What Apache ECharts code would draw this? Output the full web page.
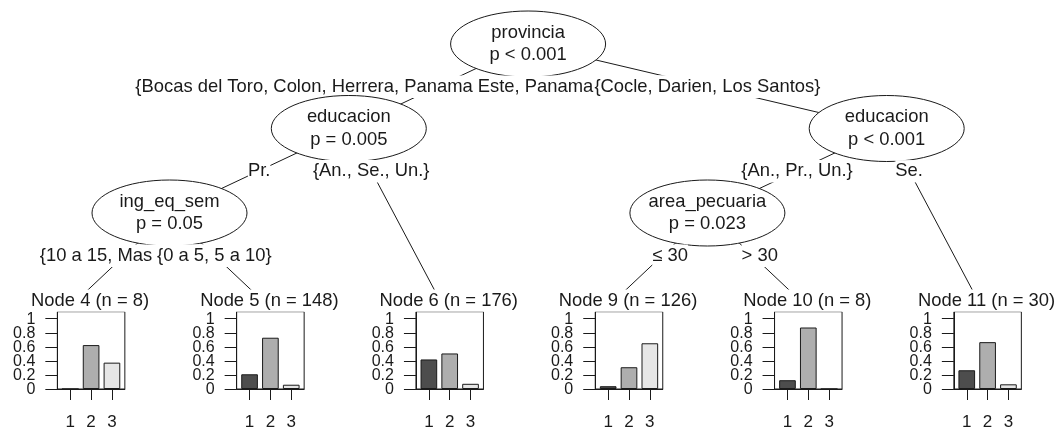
<!DOCTYPE html>
<html>
<head>
<meta charset="utf-8">
<script src="https://cdn.jsdelivr.net/npm/echarts@6/dist/echarts.min.js"></script>
<style>
  html, body { margin: 0; padding: 0; background: #fff; }
  #chart { width: 1057px; height: 431px; }
</style>
</head>
<body>
<div id="chart"></div>
<script>
// Conditional inference tree (ctree) for a three-class response.

// Tree structure, one entry per node in node-id order
const nodeId        = [1, 2, 3, 4, 5, 6, 7, 8, 9, 10, 11];
const nodeParent    = [0, 1, 2, 3, 3, 2, 1, 7, 8, 8, 7];
const splitVariable = ['provincia', 'educacion', 'ing_eq_sem', '', '', '', 'educacion', 'area_pecuaria', '', '', ''];
const splitPValue   = ['p < 0.001', 'p = 0.005', 'p = 0.05', '', '', '', 'p < 0.001', 'p = 0.023', '', '', ''];
// label of the edge leading into each node
const edgeLabel = [
  '',
  '{Bocas del Toro, Colon, Herrera, Panama Este, Panama Oeste, Veraguas}',
  'Pr.',
  '{10 a 15, Mas de 15}',
  '{0 a 5, 5 a 10}',
  '{An., Se., Un.}',
  '{Cocle, Darien, Los Santos}',
  '{An., Pr., Un.}',
  '\u2264 30',
  '> 30',
  'Se.'
];

// Terminal nodes: size and class counts
const leafId      = [4, 5, 6, 9, 10, 11];
const leafN       = [8, 148, 176, 126, 8, 30];
const class1Count = [0, 31, 74, 5, 1, 8];
const class2Count = [5, 108, 89, 39, 7, 20];
const class3Count = [3, 9, 13, 82, 0, 2];
const classLabels = ['1', '2', '3'];
const yTickValues = [0, 0.2, 0.4, 0.6, 0.8, 1];

// ---- styling / page geometry ----
const W = 1057, H = 431;
const FONT = '"Liberation Sans", Arial, Helvetica, sans-serif';
const treeFont = '18.4px ' + FONT;
const tickFont = '16px ' + FONT;
const lineH = 22.3;
const ink = '#1a1a1a';
const classColors = ['#4d4d4d', '#aeaeae', '#e6e6e6'];
const unitPx = 179.3, unitOrigin = -9.8;   // one terminal column
const levelPx = 84.5, levelOrigin = 44;    // one tree level
const ellipseRx = 77.5, ellipseRy = 33;
const boxOffset = -22.5, boxWidth = 67.5, boxTop = 311.7, boxHeight = 80.6;
const barXMin = 0.38, barXMax = 3.62, barRel = 0.8;
const yLabelGap = 22;

// ---- tree layout (columns in terminal units, rows in levels) ----
const idx = id => nodeId.indexOf(id);
const kids = {};
nodeId.forEach((id, i) => {
  const p = nodeParent[i];
  if (p) (kids[p] = kids[p] || []).push(id);
});
const widthOf = id => kids[id] ? kids[id].reduce((s, c) => s + widthOf(c), 0) : 1;
const depthOf = id => nodeParent[idx(id)] ? depthOf(nodeParent[idx(id)]) + 1 : 1;
const leafLevel = Math.max(...nodeId.filter(id => kids[id]).map(depthOf)) + 1;

const pos = {};
function place(id, a, b) {
  const k = kids[id];
  if (!k) { pos[id] = { x: (a + b) / 2, y: leafLevel }; return; }
  pos[id] = { x: a + widthOf(k[0]) / widthOf(id) * (b - a), y: depthOf(id) };
  let s = a;
  k.forEach(c => { const w = widthOf(c); place(c, s, s + w); s += w; });
}
place(1, 0, widthOf(1));

// drawing order: edges, node, edge labels, then each subtree
const ops = [];
function emit(id) {
  const k = kids[id];
  if (!k) { ops.push({ kind: 'title', id }); return; }
  k.forEach(c => ops.push({ kind: 'edge', from: id, to: c }));
  ops.push({ kind: 'node', id });
  k.forEach(c => ops.push({ kind: 'label', from: id, to: c }));
  k.forEach(emit);
}
emit(1);

const treeData = ops.map(op => {
  const n = pos[op.id || op.to];
  return [n.x, n.y];
});

function renderTree(params, api) {
  const op = ops[params.dataIndex];
  const z2 = params.dataIndex * 2;
  const at = id => api.coord([pos[id].x, pos[id].y]);
  if (op.kind === 'edge') {
    const a = at(op.from), b = at(op.to);
    return { type: 'line', z2, shape: { x1: a[0], y1: a[1], x2: b[0], y2: b[1] },
             style: { stroke: ink, lineWidth: 1 } };
  }
  if (op.kind === 'node') {
    const c = at(op.id), i = idx(op.id);
    return { type: 'group', children: [
      { type: 'ellipse', z2, shape: { cx: c[0], cy: c[1], rx: ellipseRx, ry: ellipseRy },
        style: { fill: '#fff', stroke: ink, lineWidth: 1 } },
      { type: 'text', z2: z2 + 1, style: { text: splitVariable[i] + '\n' + splitPValue[i],
        x: c[0], y: c[1], align: 'center', verticalAlign: 'middle',
        font: treeFont, lineHeight: lineH, fill: ink } }
    ] };
  }
  if (op.kind === 'label') {
    const a = pos[op.from], b = pos[op.to];
    const t = 0.5 / (b.y - a.y);
    const p = api.coord([a.x + (b.x - a.x) * t, a.y + 0.5]);
    const text = edgeLabel[idx(op.to)];
    const nudge = /^[\u2264>]/.test(text) ? 7.5 : 0;
    return { type: 'text', z2, style: { text, x: p[0] + nudge, y: p[1] + 0.5,
      align: 'center', verticalAlign: 'middle', font: treeFont, lineHeight: lineH,
      fill: ink, backgroundColor: '#fff' } };
  }
  // terminal node title
  const c = at(op.id);
  const li = leafId.indexOf(op.id);
  return { type: 'text', z2, style: { text: 'Node ' + op.id + ' (n = ' + leafN[li] + ')',
    x: c[0] + boxOffset + boxWidth / 2 - 1, y: boxTop - lineH / 2,
    align: 'center', verticalAlign: 'middle', font: treeFont, lineHeight: lineH,
    fill: ink, backgroundColor: '#fff' } };
}

// proportion-axis tick labels, placed through each panel's own scale
function renderYLabel(params, api) {
  const p = api.coord([barXMin, api.value(1)]);
  return { type: 'text', style: { text: String(api.value(1)), x: p[0] - yLabelGap, y: p[1] + 0.5,
    align: 'right', verticalAlign: 'middle', font: tickFont, fill: ink } };
}

const leafPx = id => unitOrigin + unitPx * pos[id].x;

const grids = [{ left: 0, top: 0, width: W, height: H }];
const xAxes = [{ gridIndex: 0, type: 'value', show: false,
  min: (0 - unitOrigin) / unitPx, max: (W - unitOrigin) / unitPx }];
const yAxes = [{ gridIndex: 0, type: 'value', show: false, inverse: true,
  min: 1 + (0 - levelOrigin) / levelPx, max: 1 + (H - levelOrigin) / levelPx }];
const series = [{
  type: 'custom', xAxisIndex: 0, yAxisIndex: 0, data: treeData,
  renderItem: renderTree, silent: true, clip: false, z: 2
}];

const barPx = barRel * boxWidth / (barXMax - barXMin);
leafId.forEach((id, i) => {
  const g = i + 1;
  grids.push({ left: leafPx(id) + boxOffset, top: boxTop, width: boxWidth, height: boxHeight,
    show: true, borderColor: ink, borderWidth: 1, backgroundColor: 'transparent' });
  xAxes.push({ gridIndex: g, type: 'value', min: barXMin, max: barXMax,
    axisLine: { show: true, lineStyle: { color: ink, width: 1 } },
    axisTick: { show: true, length: 11, customValues: [1, 2, 3], lineStyle: { color: ink } },
    axisLabel: { show: true, customValues: [1, 2, 3], formatter: v => classLabels[v - 1],
      margin: 25, fontSize: 17, fontFamily: FONT, color: ink, interval: 0,
      showMinLabel: true, showMaxLabel: true, hideOverlap: false },
    splitLine: { show: false } });
  yAxes.push({ gridIndex: g, type: 'value', min: 0, max: 1.1,
    axisLine: { show: true, lineStyle: { color: ink, width: 1 } },
    axisTick: { show: true, length: 12, customValues: yTickValues, lineStyle: { color: ink } },
    axisLabel: { show: false },
    splitLine: { show: false } });
  const counts = [class1Count[i], class2Count[i], class3Count[i]];
  series.push({
    type: 'bar', xAxisIndex: g, yAxisIndex: g, barWidth: barPx, silent: true, z: 3,
    data: counts.map((c, k) => ({ value: [k + 1, c / leafN[i]],
      itemStyle: { color: classColors[k], borderColor: ink, borderWidth: 1 } }))
  });
  series.push({
    type: 'custom', xAxisIndex: g, yAxisIndex: g, silent: true, clip: false, z: 4,
    data: yTickValues.map(v => [barXMin, v]), renderItem: renderYLabel
  });
});

const chart = echarts.init(document.getElementById('chart'), null, { width: W, height: H });
chart.setOption({
  animation: false,
  backgroundColor: '#fff',
  grid: grids,
  xAxis: xAxes,
  yAxis: yAxes,
  series
});
</script>
</body>
</html>
